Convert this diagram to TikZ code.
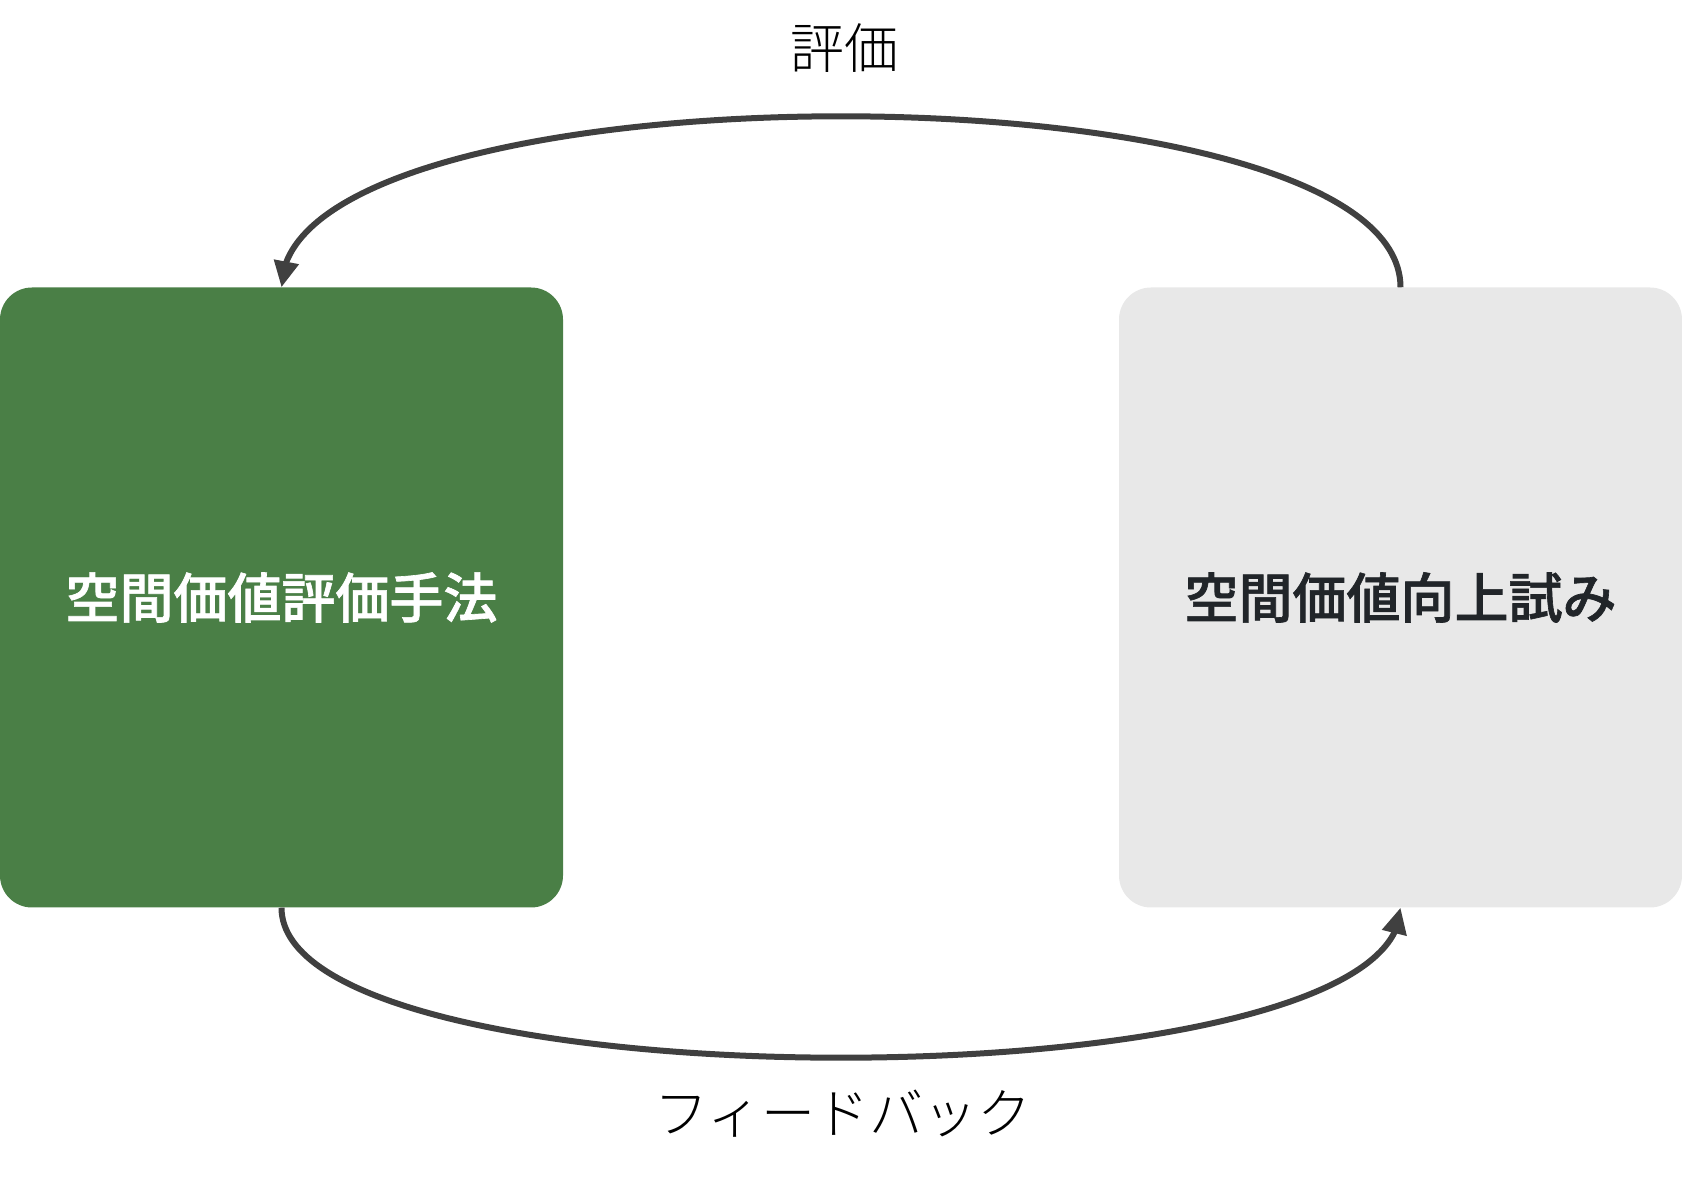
\documentclass[tikz,border=0pt]{standalone}
\usepackage{fontspec}
\usetikzlibrary{arrows.meta,bending}
\newfontfamily\jp{Noto Sans CJK JP}
\IfFontExistsTF{Noto Sans CJK JP Light}{\newfontfamily\jplight{Noto Sans CJK JP Light}}{\newfontfamily\jplight{Noto Sans CJK JP}}
\IfFontExistsTF{Noto Sans CJK JP Medium}{\newfontfamily\jpmed{Noto Sans CJK JP Medium}[FakeBold=1.2]}{\newfontfamily\jpmed{Noto Sans CJK JP}[FakeBold=2]}
\definecolor{boxgreen}{HTML}{4A7F46}
\definecolor{boxgray}{HTML}{E8E8E8}
\definecolor{linegray}{HTML}{404040}
\definecolor{darktext}{HTML}{212529}
\tikzset{
  procbox/.style={rectangle, rounded corners=32pt, minimum width=563pt, minimum height=620pt,
    inner sep=0pt, font=\jpmed\fontsize{54pt}{60pt}\selectfont},
  edgelabel/.style={inner sep=0pt, font=\jplight\fontsize{54pt}{60pt}\selectfont, text=black},
  conn/.style={draw=linegray, line width=6pt, -{Triangle[length=26pt,width=24pt,flex]}}
}
\begin{document}
\begin{tikzpicture}[x=1pt,y=1pt]
\useasboundingbox (0,0) rectangle (1682,1184);
\node[procbox, fill=boxgreen, text=white] (lb) at (281.5,586.5) {空間価値評価手法};
\node[procbox, fill=boxgray, text=darktext] (rb) at (1400.5,586.5) {空間価値向上試み};
\draw[conn] (rb.north) .. controls +(0,228) and +(0,228) .. (lb.north);
\draw[conn] (lb.south) .. controls +(0,-200) and +(0,-200) .. (rb.south);
\node[edgelabel] (toplabel) at (844,1136) {評価};
\node[edgelabel] (bottomlabel) at (843,70) {フィードバック};
\end{tikzpicture}
\end{document}
